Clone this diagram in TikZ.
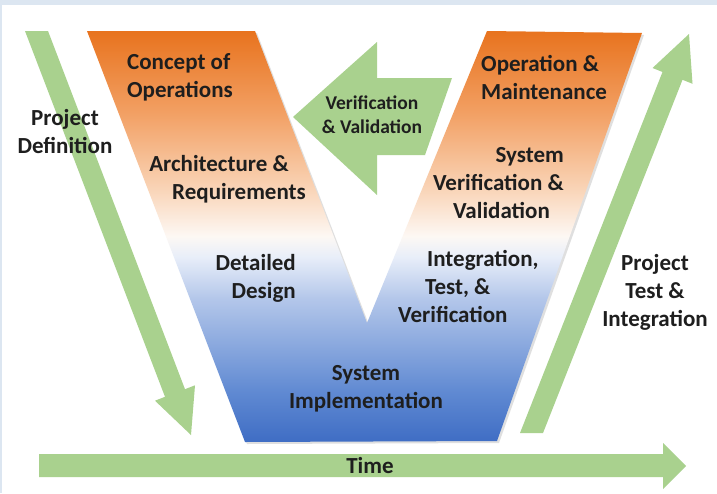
\documentclass[tikz,border=0pt]{standalone}
\usepackage{fontspec}
\setmainfont{Carlito}
\usepackage{tikz}
\usetikzlibrary{shadows}
\usepackage{xcolor}
\definecolor{arrowgreen}{HTML}{A9D18E}
\definecolor{frameblue}{HTML}{DCE6F1}
\definecolor{textdark}{HTML}{1E1E1E}
\definecolor{vblue}{HTML}{3F6DC4}
\definecolor{vblueb}{HTML}{5F89D2}
\definecolor{vbluec}{HTML}{B4C7EA}
\definecolor{vblued}{HTML}{E8EEF9}
\definecolor{vwhite}{HTML}{FDF8F4}
\definecolor{vorangea}{HTML}{F9D3B5}
\definecolor{vorangeb}{HTML}{F2A064}
\definecolor{vorange}{HTML}{E8731E}
\pgfdeclareverticalshading{vshade}{100bp}{color(0bp)=(vblue); color(25bp)=(vblue); color(31bp)=(vblueb); color(42.5bp)=(vbluec); color(47.5bp)=(vblued); color(50bp)=(vwhite); color(56bp)=(vorangea); color(65bp)=(vorangeb); color(75bp)=(vorange); color(100bp)=(vorange)}

\begin{document}
\begin{tikzpicture}[x=1pt, y=-1pt,
    greenarrow/.style={fill=arrowgreen},
    lbl/.style={font=\bfseries\fontsize{23}{28}\selectfont, text=textdark, inner sep=0pt},
    smalllbl/.style={lbl, font=\bfseries\fontsize{19.5}{24}\selectfont}]
        \useasboundingbox (0,0) rectangle (717,493);
        \fill[white] (0,0) rectangle (717,493);
        \fill[frameblue] (0,0) rectangle (717,5);
        \fill[frameblue] (0,0) rectangle (2,493);
        % the V
        \shade[shading=vshade, drop shadow={opacity=0.25, shadow xshift=2pt, shadow yshift=-2pt}]
            (87,31) -- (255,31) -- (367,323) -- (487,31) -- (642,33) -- (497,441) -- (245,442) -- cycle;
        % green arrows
        \fill[greenarrow] (25,31) -- (165,396.8) -- (155,400.7) -- (191,435) -- (195,385.3) -- (185,389.2) -- (48,31) -- cycle;
        \fill[greenarrow] (520,433) -- (662.5,72) -- (652.5,68) -- (689,34) -- (692.5,83.8) -- (682.5,79.8) -- (543,433) -- cycle;
        \fill[greenarrow] (39,454) -- (663,454) -- (663,443) -- (686,466) -- (663,489) -- (663,477) -- (39,477) -- cycle;
        \fill[greenarrow] (293,117) -- (377,42) -- (377,78) -- (452,78) -- (425,155) -- (377,155) -- (377,195) -- cycle;
        % labels
        \node[lbl, align=center] (projdef) at (65,132) {Project\\Definition};
        \node[lbl, align=left, anchor=west] (concept) at (127,77) {Concept of\\Operations};
        \node[lbl, align=right, anchor=east] (archreq) at (306,179) {Architecture \&\hspace*{17pt}\\Requirements};
        \node[lbl, align=right, anchor=east] (detdesign) at (296,278) {Detailed\\Design};
        \node[lbl, align=center] (sysimpl) at (366,389) {System\\Implementation};
        \node[smalllbl, align=center] (vandv) at (372,115) {Verification\\\& Validation};
        \node[lbl, align=left, anchor=west] (opmaint) at (481,77) {Operation \&\\Maintenance};
        \node[lbl, align=right, anchor=east] (sysvv) at (564,183) {System\\Verification \&\\Validation\hspace*{14pt}};
        \node[lbl, align=left, anchor=west] (intv) at (398,286) {\hspace*{29pt}Integration,\\\hspace*{27pt}Test, \&\\Verification};
        \node[lbl, align=center] (projtest) at (655,292) {Project\\Test \&\\Integration};
        \node[lbl] (time) at (370,466) {Time};
    \end{tikzpicture}
\end{document}
